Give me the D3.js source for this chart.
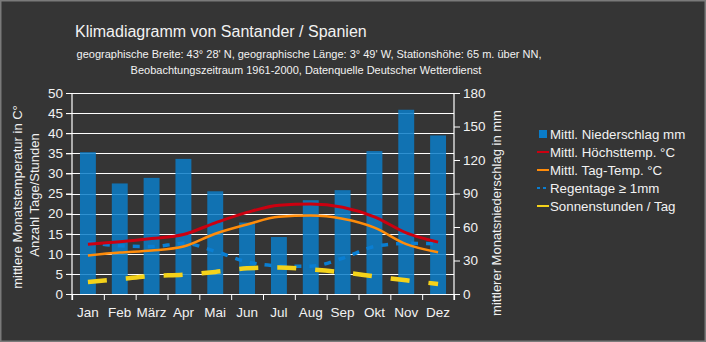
<!DOCTYPE html>
<html>
<head>
<meta charset="utf-8">
<script src="https://cdn.jsdelivr.net/npm/d3@7"></script>
<style>
  body { margin: 0; background: #353535; }
  svg { display: block; font-family: "Liberation Sans", Arial, sans-serif; }
</style>
</head>
<body>
<script>
// Klimadiagramm Santander
var months = ["Jan", "Feb", "März", "Apr", "Mai", "Jun", "Jul", "Aug", "Sep", "Okt", "Nov", "Dez"];
var niederschlag = [127, 99, 104, 121, 92, 64, 51, 84, 93, 128, 165, 142];
var hoechstTemp = [12.4, 13.0, 13.8, 14.8, 17.7, 20.3, 22.1, 22.4, 21.6, 19.2, 15.2, 12.9];
var tagTemp = [9.6, 10.3, 10.8, 11.8, 15.0, 17.3, 19.2, 19.5, 18.7, 16.5, 12.4, 10.4];
var regentage = [12.8, 12.0, 11.8, 12.6, 10.6, 8.0, 7.0, 6.9, 8.9, 11.8, 12.6, 12.5];
var sonne = [3.0, 3.7, 4.5, 4.8, 5.5, 6.4, 6.6, 6.1, 5.4, 4.4, 3.4, 2.5];
var leftTicks = [0, 5, 10, 15, 20, 25, 30, 35, 40, 45, 50];
var rightTicks = [0, 30, 60, 90, 120, 150, 180];

var width = 706, height = 342;
var plot = {left: 72, right: 454, top: 93, bottom: 294};

var svg = d3.select("body").append("svg")
    .attr("width", width)
    .attr("height", height);

svg.append("rect")
    .attr("x", 0.5).attr("y", 0.5)
    .attr("width", width - 1).attr("height", height - 1)
    .attr("fill", "#353535")
    .attr("stroke", "#7a7a7a")
    .attr("stroke-width", 2);

var x = d3.scaleBand().domain(months).range([plot.left, plot.right]);
var xLin = d3.scaleLinear().domain([0, 12]).range([plot.left, plot.right]);
var yL = d3.scaleLinear().domain([0, 50]).range([plot.bottom, plot.top]);
var yR = d3.scaleLinear().domain([0, 180]).range([plot.bottom, plot.top]);
var cx = function(d, i) { return x(months[i]) + x.bandwidth() / 2; };

// title
svg.append("text")
    .attr("x", 75).attr("y", 37)
    .attr("fill", "#f2f2f2")
    .style("font-size", "16px")
    .text("Klimadiagramm von Santander / Spanien");

var sub = svg.append("text")
    .attr("fill", "#f2f2f2")
    .attr("text-anchor", "middle")
    .style("font-size", "11px");
sub.append("tspan").attr("x", 309).attr("y", 58)
    .text("geographische Breite: 43° 28' N, geographische Länge: 3° 49' W, Stationshöhe: 65 m. über NN,");
sub.append("tspan").attr("x", 306).attr("y", 74)
    .text("Beobachtungszeitraum 1961-2000, Datenquelle Deutscher Wetterdienst");

// gridlines
svg.append("g")
    .selectAll("line")
    .data(leftTicks)
    .enter().append("line")
    .attr("x1", plot.left - 6).attr("x2", plot.right)
    .attr("y1", function(d) { return Math.round(yL(d)) + 0.5; })
    .attr("y2", function(d) { return Math.round(yL(d)) + 0.5; })
    .attr("stroke", "#ffffff")
    .attr("stroke-width", 1);

// bars
svg.append("g")
    .selectAll("rect")
    .data(niederschlag)
    .enter().append("rect")
    .attr("x", function(d, i) { return x(months[i]) + x.bandwidth() / 4; })
    .attr("width", x.bandwidth() / 2)
    .attr("y", function(d) { return yR(d); })
    .attr("height", function(d) { return plot.bottom - yR(d); })
    .attr("fill", "#0a7cc8")
    .attr("fill-opacity", 0.85);

// axes
var leftAxis = svg.append("g")
    .attr("transform", "translate(" + plot.left + ",0)")
    .call(d3.axisLeft(yL).tickValues(leftTicks).tickSize(6).tickPadding(3));
var rightAxis = svg.append("g")
    .attr("transform", "translate(" + plot.right + ",0)")
    .call(d3.axisRight(yR).tickValues(rightTicks).tickSize(6).tickPadding(3));
var bottomAxis = svg.append("g")
    .attr("transform", "translate(0," + plot.bottom + ")")
    .call(d3.axisBottom(xLin).tickValues(d3.range(0, 13)).tickSize(6).tickFormat(""));

[leftAxis, rightAxis, bottomAxis].forEach(function(a) {
    a.selectAll("path").attr("stroke", "#ffffff").attr("stroke-width", 1.2);
    a.selectAll("line").attr("stroke", "#ffffff");
    a.selectAll("text").attr("fill", "#f2f2f2").style("font-size", "13.5px")
        .style("font-family", "'Liberation Sans', Arial, sans-serif");
});
leftAxis.select(".domain").attr("d", "M0," + (plot.top) + "V" + (plot.bottom + 6));
rightAxis.select(".domain").attr("d", "M0," + (plot.top) + "V" + (plot.bottom + 6));

svg.append("g")
    .selectAll("text")
    .data(months)
    .enter().append("text")
    .attr("x", cx)
    .attr("y", 317)
    .attr("text-anchor", "middle")
    .attr("fill", "#f2f2f2")
    .style("font-size", "13.5px")
    .text(function(d) { return d; });

// lines
function drawLine(data, color, w, dash, curve) {
    var line = d3.line()
        .x(cx)
        .y(function(d) { return yL(d); })
        .curve(curve);
    var p = svg.append("path")
        .datum(data)
        .attr("d", line)
        .attr("fill", "none")
        .attr("stroke", color)
        .attr("stroke-width", w);
    if (dash) p.attr("stroke-dasharray", dash);
}
drawLine(regentage, "#0a7ed2", 3.5, "7,8", d3.curveMonotoneX);
drawLine(sonne, "#f4d21a", 4.5, "19,19", d3.curveMonotoneX);
drawLine(tagTemp, "#ff8c0a", 2.5, null, d3.curveMonotoneX);
drawLine(hoechstTemp, "#cc0010", 3, null, d3.curveMonotoneX);

// axis titles
svg.append("text")
    .attr("transform", "translate(22,197) rotate(-90)")
    .attr("text-anchor", "middle")
    .attr("fill", "#f2f2f2")
    .style("font-size", "13px")
    .text("mittlere Monatstemperatur in C°");
svg.append("text")
    .attr("transform", "translate(39,195) rotate(-90)")
    .attr("text-anchor", "middle")
    .attr("fill", "#f2f2f2")
    .style("font-size", "13px")
    .text("Anzahl Tage/Stunden");
svg.append("text")
    .attr("transform", "translate(501,213) rotate(-90)")
    .attr("text-anchor", "middle")
    .attr("fill", "#f2f2f2")
    .style("font-size", "13px")
    .text("mittlerer Monatsniederschlag in mm");

// legend
var legendItems = [
    {label: "Mittl. Niederschlag mm", type: "bar", color: "#0a7cc8"},
    {label: "Mittl. Höchsttemp. °C", type: "line", color: "#cc0010"},
    {label: "Mittl. Tag-Temp. °C", type: "line", color: "#ff8c0a"},
    {label: "Regentage ≥ 1mm", type: "dash", color: "#0a7ed2"},
    {label: "Sonnenstunden / Tag", type: "line", color: "#f4d21a"}
];
var lg = svg.append("g").attr("transform", "translate(537,134)");
var row = lg.selectAll("g")
    .data(legendItems)
    .enter().append("g")
    .attr("transform", function(d, i) { return "translate(0," + (i * 18) + ")"; });
row.each(function(d) {
    var g = d3.select(this);
    if (d.type === "bar") {
        g.append("rect").attr("x", 2).attr("y", -4).attr("width", 8).attr("height", 8).attr("fill", d.color);
    } else {
        var l = g.append("line").attr("x1", 0).attr("x2", 12).attr("y1", 0).attr("y2", 0)
            .attr("stroke", d.color).attr("stroke-width", 2);
        if (d.type === "dash") l.attr("stroke-dasharray", "3,3");
    }
});
row.append("text")
    .attr("x", 13)
    .attr("y", 5)
    .attr("fill", "#f2f2f2")
    .style("font-size", "13.3px")
    .text(function(d) { return d.label; });
</script>
</body>
</html>
